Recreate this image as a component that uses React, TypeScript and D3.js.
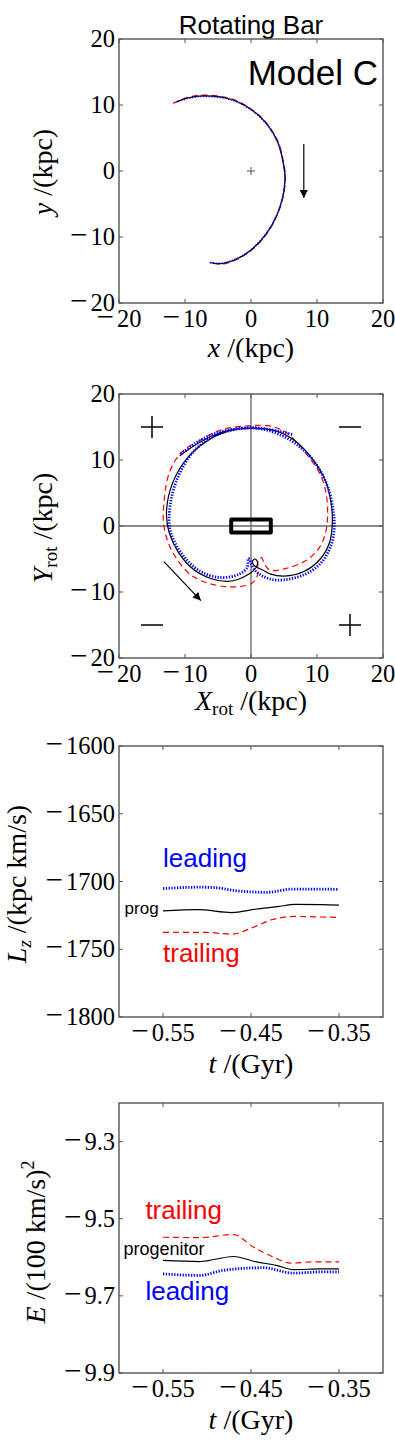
import React from "react";
import * as d3 from "d3";

type Pt = [number, number];

// ---- panel 1: inertial frame x, y (kpc)
const xyTrail: Pt[] = [
  [-11.8, 10.25], [-9.6, 11.15], [-7.3, 11.5], [-2.7, 10.85], [1.4, 8.3], [3.95, 4.75],
  [4.95, 1.2], [5.2, -1.35], [4.45, -5.4], [2.4, -9.5], [-0.65, -12.55], [-4.2, -14.1], [-5.6, -14.0],
];
const xyProg: Pt[] = [
  [-11.3, 10.45], [-9.5, 11.1], [-7.2, 11.38], [-2.7, 10.76], [1.36, 8.23], [3.9, 4.7],
  [4.9, 1.17], [5.15, -1.36], [4.4, -5.4], [2.37, -9.44], [-0.66, -12.47], [-4.2, -14.0], [-6.1, -13.9],
];
const xyLead: Pt[] = [
  [-11.0, 10.55], [-9.5, 11.0], [-7.2, 11.3], [-2.7, 10.7], [1.35, 8.2], [3.9, 4.7],
  [4.9, 1.15], [5.15, -1.35], [4.4, -5.4], [2.35, -9.4], [-0.66, -12.45], [-4.2, -13.95], [-6.3, -13.85],
];

// ---- panel 2: rotating frame X_rot, Y_rot (kpc)
const rotProg: Pt[] = [
  [-10.8, 10.65], [-8.5, 12.25], [-6, 13.6], [-3.5, 14.45], [0, 14.8], [3.5, 14.5], [6.4, 13.1],
  [9.2, 10.3], [11.3, 6.8], [12.2, 3], [12.3, 0], [11.9, -2.5], [10.5, -5], [8, -6.9], [5, -7.6],
  [3, -7.3], [1.6, -6.6], [0.6, -6.1], [0.2, -5.4], [0.6, -5.0], [1.0, -5.5], [0.6, -6.5],
  [-0.5, -7.4], [-2, -8.1], [-3.7, -8.4], [-6, -8.0], [-8.7, -6.6], [-11, -4], [-12.4, -1],
  [-12.8, 1.5], [-12.5, 4.5], [-11.2, 8], [-9, 11], [-6, 13.3], [-3, 14.5],
];
const rotTrail: Pt[] = [
  [-8, 12.8], [-5.5, 14.2], [-3, 14.9], [0, 15.2], [2.5, 15.2], [5, 14.4], [7, 12.6], [8.8, 10.4],
  [10.5, 7.8], [11.4, 4.8], [11.6, 1.5], [11.3, -1], [10.4, -3.2], [8.4, -5.2], [5.4, -6.4],
  [2.9, -6.7], [2.1, -5.9], [1.6, -4.8], [1.1, -5.2], [1.0, -7.4], [0.1, -8.7], [-3.7, -9.2],
  [-8.7, -7.7], [-11.8, -4.1], [-13.2, 0], [-13.1, 4.4], [-12.4, 8.0], [-10.8, 10.9], [-9, 12.3],
];
const rotLead: Pt[] = [
  [-10.6, 10.9], [-8.3, 12.6], [-5.5, 14.0], [-2, 14.75], [1, 14.8], [4, 14.0], [7, 12.3],
  [9.7, 9.6], [11.6, 6], [12.5, 2], [12.6, -0.5], [12.1, -3], [10.6, -5.6], [8, -7.4], [4, -8.2],
  [1.8, -7.6], [0.5, -6.6], [-0.4, -4.9], [-0.6, -6.3], [-1.8, -7.3], [-4.7, -7.8], [-7.8, -6.8],
  [-10.5, -4.2], [-12.1, -1.2], [-12.4, 1], [-12, 4.5], [-10.8, 8], [-8.7, 11.3], [-6, 13.4],
  [-3, 14.5], [0, 14.9], [3, 14.6], [5, 14.2], [6.4, 13.8],
];
const quadSigns = [
  { x: -15, y: 15, s: "+" }, { x: 15, y: 15, s: "-" },
  { x: -15, y: -15, s: "-" }, { x: 15, y: -15, s: "+" },
];

// ---- panel 3: L_z (kpc km/s) vs t (Gyr)
const lzLead: Pt[] = [
  [-0.55, -1705.2], [-0.508, -1704.2], [-0.49, -1704.6], [-0.47, -1706.6], [-0.445, -1707.8],
  [-0.432, -1708.0], [-0.405, -1705.7], [-0.37, -1705.6], [-0.35, -1705.9],
];
const lzProg: Pt[] = [
  [-0.55, -1721.7], [-0.51, -1720.8], [-0.472, -1722.9], [-0.444, -1720.3], [-0.42, -1718.6],
  [-0.40, -1716.9], [-0.37, -1717.1], [-0.35, -1717.5],
];
const lzTrail: Pt[] = [
  [-0.55, -1737.6], [-0.50, -1737.6], [-0.472, -1738.9], [-0.45, -1734.5], [-0.425, -1728.0],
  [-0.40, -1725.8], [-0.37, -1726.2], [-0.35, -1726.5],
];

// ---- panel 4: E (100 km/s)^2 vs t (Gyr)
const eTrail: Pt[] = [
  [-0.55, -9.548], [-0.508, -9.549], [-0.47, -9.541], [-0.447, -9.574], [-0.424, -9.600],
  [-0.405, -9.615], [-0.379, -9.612], [-0.35, -9.612],
];
const eProg: Pt[] = [
  [-0.55, -9.608], [-0.508, -9.611], [-0.47, -9.598], [-0.444, -9.612], [-0.421, -9.621],
  [-0.402, -9.632], [-0.37, -9.630], [-0.35, -9.630],
];
const eLead: Pt[] = [
  [-0.55, -9.643], [-0.508, -9.647], [-0.482, -9.634], [-0.436, -9.627], [-0.402, -9.641],
  [-0.37, -9.638], [-0.35, -9.638],
];

const kpcTicks = [-20, -10, 0, 10, 20];
const tTicks = [-0.55, -0.45, -0.35];
const lzTicks = [-1800, -1750, -1700, -1650, -1600];
const eTicks = [-9.9, -9.7, -9.5, -9.3];

const SERIF = "'Liberation Serif', 'Times New Roman', serif";
const SANS = "'Liberation Sans', Arial, sans-serif";
const FRAME = "#555";
const TICK_FS = 24.5;
const LABEL_FS = 28;

const styles = {
  prog: { stroke: "#000", strokeWidth: 1.2 },
  trail: { stroke: "#f00", strokeWidth: 1.2, strokeDasharray: "6,4" },
  lead: { stroke: "#00f", strokeWidth: 2.8, strokeDasharray: "1.3,1.5" },
};

// tick label with a wide, math-style minus sign
function TickText({ s, ...rest }: any) {
  const neg = s.startsWith("-");
  return (
    <text fontFamily={SERIF} fontSize={TICK_FS} {...rest}>
      {neg ? <tspan fontSize={31}>{"\u2212"}</tspan> : null}
      <tspan dx={neg ? 3 : 0}>{neg ? s.slice(1) : s}</tspan>
    </text>
  );
}

function Frame({ x, y, xTicks, yTicks, xFmt, yFmt }: any) {
  const [x0, x1] = x.range();
  const [yb, yt] = y.range();
  const tl = 4;
  return (
    <g>
      <rect x={x0} y={yt} width={x1 - x0} height={yb - yt} fill="none" stroke={FRAME} strokeWidth={1.4} />
      {xTicks.map((t: number) => (
        <g key={"x" + t}>
          <line x1={x(t)} x2={x(t)} y1={yb} y2={yb - tl} stroke={FRAME} />
          <line x1={x(t)} x2={x(t)} y1={yt} y2={yt + tl} stroke={FRAME} />
          <TickText s={xFmt(t)} x={x(t)} y={yb + 24} textAnchor="middle" />
        </g>
      ))}
      {yTicks.map((t: number) => (
        <g key={"y" + t}>
          <line x1={x0} x2={x0 + tl} y1={y(t)} y2={y(t)} stroke={FRAME} />
          <line x1={x1} x2={x1 - tl} y1={y(t)} y2={y(t)} stroke={FRAME} />
          <TickText s={yFmt(t)} x={x0 - 4} y={y(t) + 8} textAnchor="end" />
        </g>
      ))}
    </g>
  );
}

function Arrow({ x, y, from, to }: any) {
  return (
    <line x1={x(from[0])} y1={y(from[1])} x2={x(to[0])} y2={y(to[1])}
      stroke="#000" strokeWidth={1.2} markerEnd="url(#head)" />
  );
}

export default function App() {
  const int = (v: number) => String(v);

  // panel 1
  const x1 = d3.scaleLinear().domain([-20, 20]).range([119, 383]);
  const y1 = d3.scaleLinear().domain([-20, 20]).range([303, 39]);
  const l1 = d3.line<Pt>().x(d => x1(d[0])).y(d => y1(d[1])).curve(d3.curveCatmullRom.alpha(0.5));

  // panel 2
  const x2 = d3.scaleLinear().domain([-20, 20]).range([119, 383]);
  const y2 = d3.scaleLinear().domain([-20, 20]).range([658, 394]);
  const l2 = d3.line<Pt>().x(d => x2(d[0])).y(d => y2(d[1])).curve(d3.curveCatmullRom.alpha(0.5));

  // panel 3
  const x3 = d3.scaleLinear().domain([-0.6, -0.3]).range([119, 383]);
  const y3 = d3.scaleLinear().domain([-1800, -1600]).range([1017, 746]);
  const l3 = d3.line<Pt>().x(d => x3(d[0])).y(d => y3(d[1])).curve(d3.curveMonotoneX);

  // panel 4
  const x4 = d3.scaleLinear().domain([-0.6, -0.3]).range([119, 383]);
  const y4 = d3.scaleLinear().domain([-9.9, -9.2]).range([1373, 1103]);
  const l4 = d3.line<Pt>().x(d => x4(d[0])).y(d => y4(d[1])).curve(d3.curveMonotoneX);

  return (
    <svg width={395} height={1446} style={{ position: "absolute", left: 0, top: 0, background: "#fff" }}>
      <defs>
        <marker id="head" viewBox="0 0 10 10" refX={10} refY={5} markerWidth={9} markerHeight={8}
          markerUnits="userSpaceOnUse" orient="auto">
          <path d="M0,0 L10,5 L0,10 z" fill="#000" />
        </marker>
      </defs>
      <rect width={395} height={1446} fill="#fff" />

      {/* ---------- panel 1 ---------- */}
      <text x={251} y={34} textAnchor="middle" fontFamily={SANS} fontSize={26}>Rotating Bar</text>
      <path d={l1(xyTrail) || ""} fill="none" {...styles.trail} />
      <path d={l1(xyProg) || ""} fill="none" {...styles.prog} />
      <path d={l1(xyLead) || ""} fill="none" {...styles.lead} strokeWidth={1.6} />
      <path d={`M${x1(0) - 4},${y1(0)}h8M${x1(0)},${y1(0) - 4}v8`} stroke="#555" strokeWidth={1} />
      <Arrow x={x1} y={y1} from={[8, 4.1]} to={[8, -4.1]} />
      <text x={378} y={85} textAnchor="end" fontFamily={SANS} fontSize={35}>Model C</text>
      <Frame x={x1} y={y1} xTicks={kpcTicks} yTicks={kpcTicks} xFmt={int} yFmt={int} />
      <text x={251} y={357} textAnchor="middle" fontFamily={SERIF} fontSize={LABEL_FS}>
        <tspan fontStyle="italic">x</tspan> /(kpc)
      </text>
      <text transform="translate(52,172) rotate(-90)" textAnchor="middle" fontFamily={SERIF} fontSize={LABEL_FS}>
        <tspan fontStyle="italic">y</tspan> /(kpc)
      </text>

      {/* ---------- panel 2 ---------- */}
      <line x1={x2(0)} x2={x2(0)} y1={y2(-20)} y2={y2(20)} stroke="#666" strokeWidth={1.3} />
      <line x1={x2(-20)} x2={x2(20)} y1={y2(0)} y2={y2(0)} stroke="#666" strokeWidth={1.3} />
      {quadSigns.map((q, i) => (
        <path key={i} stroke="#000" strokeWidth={1.5} fill="none"
          d={q.s === "+"
            ? `M${x2(q.x) - 11},${y2(q.y)}h22M${x2(q.x)},${y2(q.y) - 11}v22`
            : `M${x2(q.x) - 11},${y2(q.y)}h22`} />
      ))}
      <rect x={x2(-3)} y={y2(1)} width={x2(3) - x2(-3)} height={y2(-1) - y2(1)}
        fill="none" stroke="#000" strokeWidth={4} strokeLinejoin="round" />
      <path d={l2(rotTrail) || ""} fill="none" {...styles.trail} />
      <path d={l2(rotProg) || ""} fill="none" {...styles.prog} />
      <path d={l2(rotLead) || ""} fill="none" {...styles.lead} />
      <Arrow x={x2} y={y2} from={[-13.2, -5.4]} to={[-7.6, -11.3]} />
      <Frame x={x2} y={y2} xTicks={kpcTicks} yTicks={kpcTicks} xFmt={int} yFmt={int} />
      <text x={251} y={710} textAnchor="middle" fontFamily={SERIF} fontSize={LABEL_FS}>
        <tspan fontStyle="italic">X</tspan>
        <tspan fontSize={19} dy={5}>rot</tspan>
        <tspan dy={-5}> /(kpc)</tspan>
      </text>
      <text transform="translate(52,528) rotate(-90)" textAnchor="middle" fontFamily={SERIF} fontSize={LABEL_FS}>
        <tspan fontStyle="italic">Y</tspan>
        <tspan fontSize={19} dy={5}>rot</tspan>
        <tspan dy={-5}> /(kpc)</tspan>
      </text>

      {/* ---------- panel 3 ---------- */}
      <path d={l3(lzTrail) || ""} fill="none" {...styles.trail} />
      <path d={l3(lzProg) || ""} fill="none" {...styles.prog} />
      <path d={l3(lzLead) || ""} fill="none" {...styles.lead} />
      <text x={x3(-0.55)} y={y3(-1689.5)} fontFamily={SANS} fontSize={26} fill="#00f">leading</text>
      <text x={x3(-0.55)} y={y3(-1759.5)} fontFamily={SANS} fontSize={26} fill="#f00">trailing</text>
      <text x={x3(-0.555)} y={y3(-1724.1)} textAnchor="end" fontFamily={SANS} fontSize={17}>prog</text>
      <Frame x={x3} y={y3} xTicks={tTicks} yTicks={lzTicks} xFmt={(v: number) => v.toFixed(2)} yFmt={int} />
      <text x={251} y={1073} textAnchor="middle" fontFamily={SERIF} fontSize={LABEL_FS}>
        <tspan fontStyle="italic">t</tspan> /(Gyr)
      </text>
      <text transform="translate(26,884) rotate(-90)" textAnchor="middle" fontFamily={SERIF} fontSize={LABEL_FS}>
        <tspan fontStyle="italic">L</tspan>
        <tspan fontStyle="italic" fontSize={19} dy={5}>z</tspan>
        <tspan dy={-5}> /(kpc km/s)</tspan>
      </text>

      {/* ---------- panel 4 ---------- */}
      <path d={l4(eTrail) || ""} fill="none" {...styles.trail} />
      <path d={l4(eProg) || ""} fill="none" {...styles.prog} />
      <path d={l4(eLead) || ""} fill="none" {...styles.lead} />
      <text x={x4(-0.57)} y={y4(-9.5)} fontFamily={SANS} fontSize={26} fill="#f00">trailing</text>
      <text x={x4(-0.595)} y={y4(-9.593)} fontFamily={SANS} fontSize={18}>progenitor</text>
      <text x={x4(-0.57)} y={y4(-9.712)} fontFamily={SANS} fontSize={26} fill="#00f">leading</text>
      <Frame x={x4} y={y4} xTicks={tTicks} yTicks={eTicks} xFmt={(v: number) => v.toFixed(2)}
        yFmt={(v: number) => v.toFixed(1)} />
      <text x={251} y={1429} textAnchor="middle" fontFamily={SERIF} fontSize={LABEL_FS}>
        <tspan fontStyle="italic">t</tspan> /(Gyr)
      </text>
      <text transform="translate(45,1242) rotate(-90)" textAnchor="middle" fontFamily={SERIF} fontSize={LABEL_FS}>
        <tspan fontStyle="italic">E</tspan> /(100 km/s)
        <tspan fontSize={18} dy={-11}>2</tspan>
      </text>
    </svg>
  );
}
